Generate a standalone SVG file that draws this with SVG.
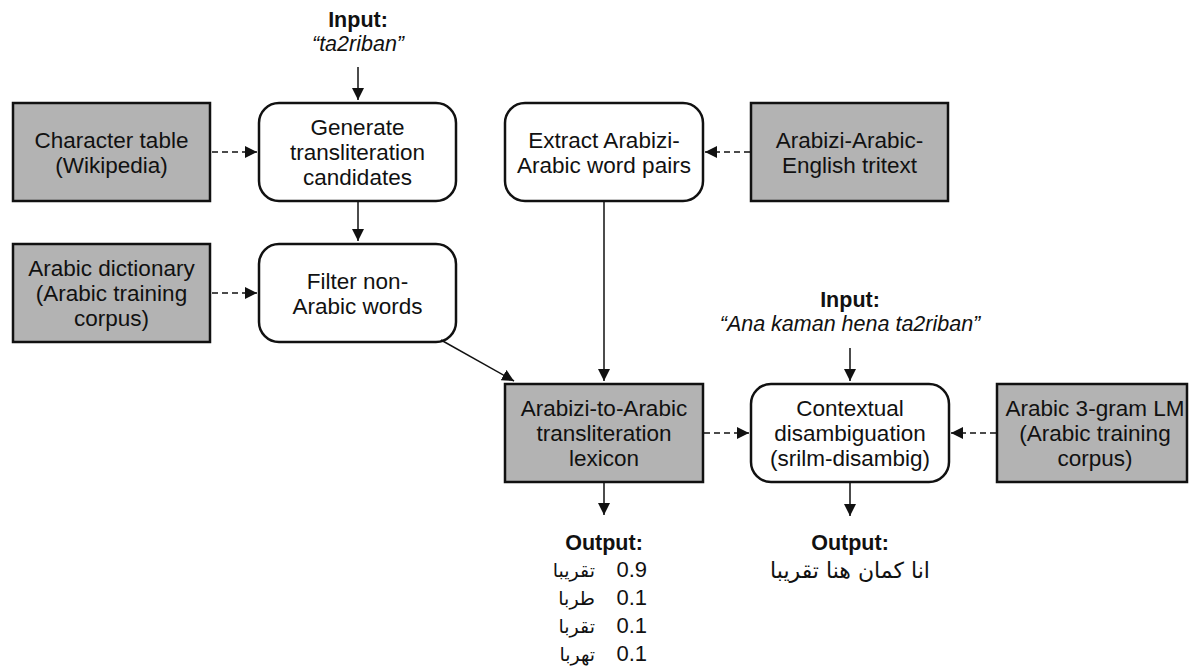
<svg xmlns="http://www.w3.org/2000/svg" width="1189" height="671" viewBox="0 0 1189 671">
<defs>
<style>
.t{font-family:"Liberation Sans",Arial,sans-serif;font-size:22.5px;fill:#111;text-anchor:middle}
.b{font-family:"Liberation Sans",Arial,sans-serif;font-size:21.5px;font-weight:bold;fill:#111;text-anchor:middle}
.i{font-family:"Liberation Sans",Arial,sans-serif;font-size:21.5px;font-style:italic;fill:#111;text-anchor:middle}
.n{font-family:"Liberation Sans",Arial,sans-serif;font-size:22px;fill:#111;text-anchor:end}
.ar{font-family:"DejaVu Sans","Noto Sans",sans-serif;font-size:19px;fill:#111;text-anchor:end}
.ar2{font-family:"DejaVu Sans","Noto Sans",sans-serif;font-size:22px;fill:#111;text-anchor:middle}
.g{fill:#b3b3b3;stroke:#111;stroke-width:2.5}
.w{fill:#fff;stroke:#111;stroke-width:2.5}
.c{stroke:#111;stroke-width:1.5;fill:none;marker-end:url(#ah)}
.d{stroke-dasharray:6,4}
</style>
<marker id="ah" markerUnits="userSpaceOnUse" markerWidth="13" markerHeight="12" refX="12" refY="6" orient="auto">
<path d="M0,0 L12,6 L0,12 z" fill="#111"/>
</marker>
</defs>
<rect width="1189" height="671" fill="#fff"/>

<g id="input1">
<text class="b" x="358" y="27">Input:</text>
<text class="i" x="358" y="51">“ta2riban”</text>
</g>

<g id="chartable">
<rect class="g" x="13" y="103" width="197" height="98"/>
<text class="t" x="111.5" y="148">Character table</text>
<text class="t" x="111.5" y="173">(Wikipedia)</text>
</g>

<g id="generate">
<rect class="w" x="259" y="103" width="197" height="98" rx="20"/>
<text class="t" x="357.5" y="135">Generate</text>
<text class="t" x="357.5" y="160">transliteration</text>
<text class="t" x="357.5" y="185">candidates</text>
</g>

<g id="dictionary">
<rect class="g" x="13" y="244" width="197" height="98"/>
<text class="t" x="111.5" y="276">Arabic dictionary</text>
<text class="t" x="111.5" y="301">(Arabic training</text>
<text class="t" x="111.5" y="326">corpus)</text>
</g>

<g id="filter">
<rect class="w" x="259" y="244" width="197" height="98" rx="20"/>
<text class="t" x="357.5" y="289">Filter non-</text>
<text class="t" x="357.5" y="314">Arabic words</text>
</g>

<g id="extract">
<rect class="w" x="505" y="103" width="198" height="98" rx="20"/>
<text class="t" x="604" y="148">Extract Arabizi-</text>
<text class="t" x="604" y="173">Arabic word pairs</text>
</g>

<g id="tritext">
<rect class="g" x="751" y="103" width="197" height="98"/>
<text class="t" x="849.5" y="148">Arabizi-Arabic-</text>
<text class="t" x="849.5" y="173">English tritext</text>
</g>

<g id="input2">
<text class="b" x="850" y="307">Input:</text>
<text class="i" x="850" y="331">“Ana kaman hena ta2riban”</text>
</g>

<g id="lexicon">
<rect class="g" x="505" y="384" width="198" height="98"/>
<text class="t" x="604" y="416">Arabizi-to-Arabic</text>
<text class="t" x="604" y="441">transliteration</text>
<text class="t" x="604" y="466">lexicon</text>
</g>

<g id="contextual">
<rect class="w" x="751" y="384" width="198" height="98" rx="20"/>
<text class="t" x="850" y="416">Contextual</text>
<text class="t" x="850" y="441">disambiguation</text>
<text class="t" x="850" y="466">(srilm-disambig)</text>
</g>

<g id="lm">
<rect class="g" x="997" y="384" width="190" height="98"/>
<text class="t" x="1095" y="416">Arabic 3-gram LM</text>
<text class="t" x="1095" y="441">(Arabic training</text>
<text class="t" x="1095" y="466">corpus)</text>
</g>

<g id="output1">
<text class="b" x="604" y="550">Output:</text>
<text class="n" x="647" y="577">0.9</text>
<text class="ar" x="595" y="577">تقريبا</text>
<text class="n" x="647" y="605">0.1</text>
<text class="ar" x="595" y="605">طربا</text>
<text class="n" x="647" y="633">0.1</text>
<text class="ar" x="595" y="633">تقربا</text>
<text class="n" x="647" y="661">0.1</text>
<text class="ar" x="595" y="661">تهربا</text>
</g>

<g id="output2">
<text class="b" x="850" y="550">Output:</text>
<text class="ar2" x="850" y="578">انا كمان هنا تقريبا</text>
</g>

<g id="connectors">
<line class="c" x1="358" y1="67" x2="358" y2="100"/>
<line class="c" x1="358" y1="202" x2="358" y2="241"/>
<line class="c d" x1="212" y1="152" x2="257" y2="152"/>
<line class="c d" x1="212" y1="293" x2="257" y2="293"/>
<line class="c d" x1="750" y1="152" x2="705" y2="152"/>
<line class="c" x1="604" y1="202" x2="604" y2="381"/>
<line class="c" x1="441" y1="340" x2="514" y2="381"/>
<line class="c d" x1="704" y1="433" x2="749" y2="433"/>
<line class="c d" x1="996" y1="433" x2="951" y2="433"/>
<line class="c" x1="850" y1="348" x2="850" y2="381"/>
<line class="c" x1="604" y1="483" x2="604" y2="515"/>
<line class="c" x1="850" y1="483" x2="850" y2="516"/>
</g>
</svg>
